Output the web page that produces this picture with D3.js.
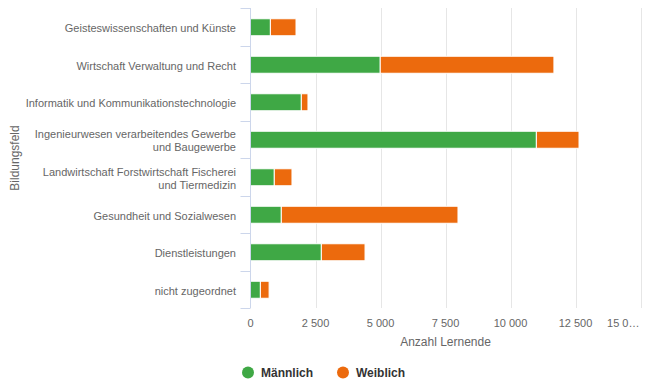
<!DOCTYPE html>
<html><head><meta charset="utf-8">
<script src="https://cdn.jsdelivr.net/npm/d3@7"></script>
<style>
html,body{margin:0;padding:0;background:#fff;}
svg{display:block;font-family:"Liberation Sans",Arial,sans-serif;}
</style></head>
<body><svg id="chart" width="658" height="387"></svg>
<script>
const categories = [
  "Geisteswissenschaften und Künste",
  "Wirtschaft Verwaltung und Recht",
  "Informatik und Kommunikationstechnologie",
  "Ingenieurwesen verarbeitendes Gewerbe\nund Baugewerbe",
  "Landwirtschaft Forstwirtschaft Fischerei\nund Tiermedizin",
  "Gesundheit und Sozialwesen",
  "Dienstleistungen",
  "nicht zugeordnet"
];
const maennlich = [765, 4990, 1955, 10995, 915, 1185, 2725, 380];
const weiblich  = [985, 6680, 255, 1640, 680, 6795, 1680, 335];
const seriesNames = ["Männlich", "Weiblich"];
const seriesColors = ["#3fa845", "#ec6a0d"];
const xTicks = [0, 2500, 5000, 7500, 10000, 12500, 15000];
const xTickLabels = ["0", "2 500", "5 000", "7 500", "10 000", "12 500", "15 0…"];
const xTitle = "Anzahl Lernende";
const yTitle = "Bildungsfeld";

(function () {
const svg = d3.select("#chart");
const pL = 250.5, pR = 640.5, pT = 8, pB = 308;

const x = d3.scaleLinear().domain([0, 15000]).range([pL, pR]);
const y = d3.scaleBand().domain(categories).range([pT, pB]);
const barH = 17;

// gridlines
svg.append("g").selectAll("line").data(xTicks.slice(1)).join("line")
  .attr("x1", d => Math.round(x(d)) + 0.5).attr("x2", d => Math.round(x(d)) + 0.5)
  .attr("y1", pT).attr("y2", pB)
  .attr("stroke", "#e6e6e6").attr("stroke-width", 1);

// bars
const stackData = categories.map((c, i) => ({cat: c, m: maennlich[i], w: weiblich[i]}));
const stack = d3.stack().keys(["m", "w"])(stackData);
svg.append("g").selectAll("g").data(stack).join("g")
  .attr("fill", (d, i) => seriesColors[i])
  .selectAll("rect").data(d => d).join("rect")
  .attr("x", d => x(d[0]))
  .attr("width", d => x(d[1]) - x(d[0]))
  .attr("y", d => y(d.data.cat) + y.bandwidth() / 2 - barH / 2 + 0.5)
  .attr("height", barH)
  .attr("stroke", "#fff").attr("stroke-width", 1);

// y axis line and ticks
const yAxisG = svg.append("g");
yAxisG.append("line").attr("x1", pL).attr("x2", pL).attr("y1", pT).attr("y2", pB)
  .attr("stroke", "#ccd6eb").attr("stroke-width", 1);
const bounds = categories.map(c => y(c)).concat([pB]);
yAxisG.selectAll("line.tk").data(bounds).join("line").attr("class", "tk")
  .attr("x1", pL - 10).attr("x2", pL)
  .attr("y1", d => Math.round(d) + 0.5).attr("y2", d => Math.round(d) + 0.5)
  .attr("stroke", "#ccd6eb").attr("stroke-width", 1);

// category labels
const lineH = 13;
categories.forEach(c => {
  const lines = c.split("\n");
  const cy = y(c) + y.bandwidth() / 2 + 1.5;
  const t = svg.append("text").attr("text-anchor", "end")
    .attr("font-size", 11).attr("fill", "#666666");
  lines.forEach((ln, k) => {
    t.append("tspan").attr("x", 236)
      .attr("y", cy + (k - (lines.length - 1) / 2) * lineH + 4)
      .text(ln);
  });
});

// x tick labels
svg.append("g").selectAll("text").data(xTicks).join("text")
  .attr("x", (d, i) => i === xTicks.length - 1 ? x(d) - 1 : x(d))
  .attr("y", 327)
  .attr("text-anchor", (d, i) => i === xTicks.length - 1 ? "end" : "middle")
  .attr("font-size", 11).attr("fill", "#666666")
  .text((d, i) => xTickLabels[i]);

// axis titles
svg.append("text").attr("x", (pL + pR) / 2).attr("y", 345.5)
  .attr("text-anchor", "middle").attr("font-size", 12).attr("fill", "#666666").text(xTitle);
svg.append("text").attr("transform", `translate(19,${(pT + pB) / 2}) rotate(-90)`)
  .attr("text-anchor", "middle").attr("font-size", 12).attr("fill", "#666666").text(yTitle);

// legend
const legendX = [248, 343];
const lg = svg.append("g").selectAll("g").data(seriesNames).join("g")
  .attr("transform", (d, i) => `translate(${legendX[i]},372.5)`);
lg.append("circle").attr("r", 6).attr("fill", (d, i) => seriesColors[i]);
lg.append("text").attr("x", 13).attr("y", 4.5).attr("font-size", 12)
  .attr("font-weight", "bold").attr("fill", "#333333").text(d => d);
})();
</script></body></html>
